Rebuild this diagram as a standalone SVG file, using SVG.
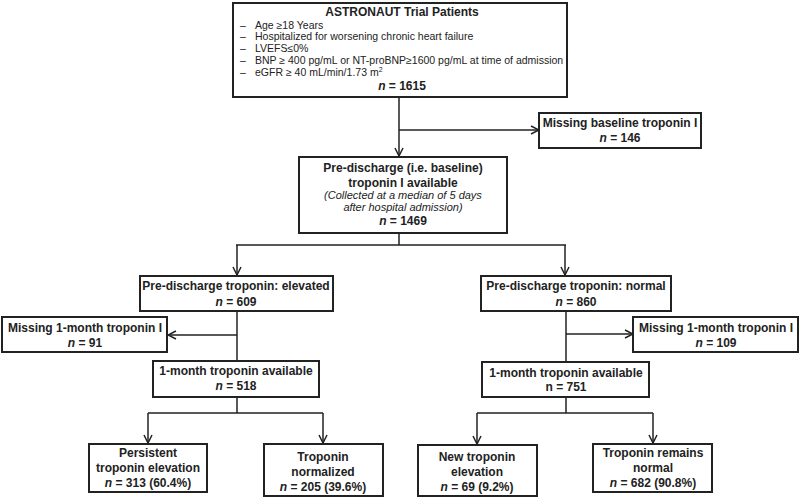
<svg xmlns="http://www.w3.org/2000/svg" width="800" height="499" viewBox="0 0 800 499">
<style>
.box{fill:#fff;stroke:#222;stroke-width:2}
.t{font-family:"Liberation Sans",Arial,sans-serif;font-size:12px;font-weight:bold;fill:#222;text-anchor:middle}
.r{font-family:"Liberation Sans",Arial,sans-serif;font-size:10.5px;fill:#222}
.i{font-family:"Liberation Sans",Arial,sans-serif;font-size:11px;font-style:italic;fill:#222;text-anchor:middle}
.c{fill:none;stroke:#222;stroke-width:1.5}
</style>
<defs>
<marker id="a" viewBox="0 0 10 10" refX="9" refY="5" markerWidth="10" markerHeight="10" markerUnits="userSpaceOnUse" orient="auto">
<path d="M1,1 L9,5 L1,9" fill="none" stroke="#222" stroke-width="1.5"/>
</marker>
</defs>
<rect width="800" height="499" fill="#fff"/>
<g id="connectors">
<path class="c" d="M399,98 V156" marker-end="url(#a)"/>
<path class="c" d="M399,130 H539" marker-end="url(#a)"/>
<path class="c" d="M399,233 V245 M236,245 H566"/>
<path class="c" d="M237,245 V275" marker-end="url(#a)"/>
<path class="c" d="M565,245 V275" marker-end="url(#a)"/>
<path class="c" d="M237,311 V361"/>
<path class="c" d="M237,335 H168" marker-end="url(#a)"/>
<path class="c" d="M566,311 V362"/>
<path class="c" d="M566,334 H633" marker-end="url(#a)"/>
<path class="c" d="M237,397 V413 M148,413 H323"/>
<path class="c" d="M148,413 V443" marker-end="url(#a)"/>
<path class="c" d="M323,413 V443" marker-end="url(#a)"/>
<path class="c" d="M566,397 V413 M477,413 H653"/>
<path class="c" d="M477,413 V444" marker-end="url(#a)"/>
<path class="c" d="M653,413 V443" marker-end="url(#a)"/>
</g>
<g id="n1">
<rect class="box" x="233" y="3" width="334" height="94"/>
<text class="t" x="402" y="16" font-size="13">ASTRONAUT Trial Patients</text>
<g class="r">
<text x="240" y="29">–</text><text x="255" y="29">Age ≥18 Years</text>
<text x="240" y="40">–</text><text x="255" y="40">Hospitalized for worsening chronic heart failure</text>
<text x="240" y="52">–</text><text x="255" y="52">LVEFS≤0%</text>
<text x="240" y="64">–</text><text x="255" y="64">BNP ≥ 400 pg/mL or NT-proBNP≥1600 pg/mL at time of admission</text>
<text x="240" y="76">–</text><text x="255" y="76">eGFR ≥ 40 mL/min/1.73 m<tspan font-size="7" dy="-4">2</tspan></text>
</g>
<text class="t" x="402" y="90" font-size="13"><tspan font-style="italic">n</tspan> = 1615</text>
</g>
<g id="n2">
<rect class="box" x="539" y="113" width="162" height="35"/>
<text class="t" x="620" y="127">Missing baseline troponin I</text>
<text class="t" x="620" y="142"><tspan font-style="italic">n</tspan> = 146</text>
</g>
<g id="n3">
<rect class="box" x="299" y="157" width="208" height="76"/>
<text class="t" x="403" y="172">Pre-discharge (i.e. baseline)</text>
<text class="t" x="403" y="187">troponin I available</text>
<text class="i" x="403" y="199">(Collected at a median of 5 days</text>
<text class="i" x="403" y="211">after hospital admission)</text>
<text class="t" x="403" y="225"><tspan font-style="italic">n</tspan> = 1469</text>
</g>
<g id="n4">
<rect class="box" x="140" y="276" width="193" height="35"/>
<text class="t" x="236" y="290">Pre-discharge troponin: elevated</text>
<text class="t" x="236" y="306"><tspan font-style="italic">n</tspan> = 609</text>
</g>
<g id="n5">
<rect class="box" x="481" y="276" width="190" height="35"/>
<text class="t" x="576" y="290">Pre-discharge troponin: normal</text>
<text class="t" x="576" y="306"><tspan font-style="italic">n</tspan> = 860</text>
</g>
<g id="n6">
<rect class="box" x="2" y="317" width="165" height="35"/>
<text class="t" x="85" y="332">Missing 1-month troponin I</text>
<text class="t" x="85" y="347"><tspan font-style="italic">n</tspan> = 91</text>
</g>
<g id="n7">
<rect class="box" x="633" y="317" width="165" height="35"/>
<text class="t" x="716" y="332">Missing 1-month troponin I</text>
<text class="t" x="716" y="347"><tspan font-style="italic">n</tspan> = 109</text>
</g>
<g id="n8">
<rect class="box" x="153" y="361" width="166" height="36"/>
<text class="t" x="236" y="375">1-month troponin available</text>
<text class="t" x="236" y="390"><tspan font-style="italic">n</tspan> = 518</text>
</g>
<g id="n9">
<rect class="box" x="482" y="362" width="167" height="35"/>
<text class="t" x="566" y="377">1-month troponin available</text>
<text class="t" x="566" y="391">n = 751</text>
</g>
<g id="n10">
<rect class="box" x="89" y="444" width="118" height="48"/>
<text class="t" x="148" y="457">Persistent</text>
<text class="t" x="148" y="472">troponin elevation</text>
<text class="t" x="148" y="487"><tspan font-style="italic">n</tspan> = 313 (60.4%)</text>
</g>
<g id="n11">
<rect class="box" x="264" y="444" width="119" height="52"/>
<text class="t" x="323" y="461">Troponin</text>
<text class="t" x="323" y="476">normalized</text>
<text class="t" x="323" y="491"><tspan font-style="italic">n</tspan> = 205 (39.6%)</text>
</g>
<g id="n12">
<rect class="box" x="418" y="445" width="119" height="51"/>
<text class="t" x="477" y="461">New troponin</text>
<text class="t" x="477" y="476">elevation</text>
<text class="t" x="477" y="491"><tspan font-style="italic">n</tspan> = 69 (9.2%)</text>
</g>
<g id="n13">
<rect class="box" x="593" y="444" width="119" height="48"/>
<text class="t" x="653" y="457">Troponin remains</text>
<text class="t" x="653" y="472">normal</text>
<text class="t" x="653" y="487"><tspan font-style="italic">n</tspan> = 682 (90.8%)</text>
</g>
</svg>
